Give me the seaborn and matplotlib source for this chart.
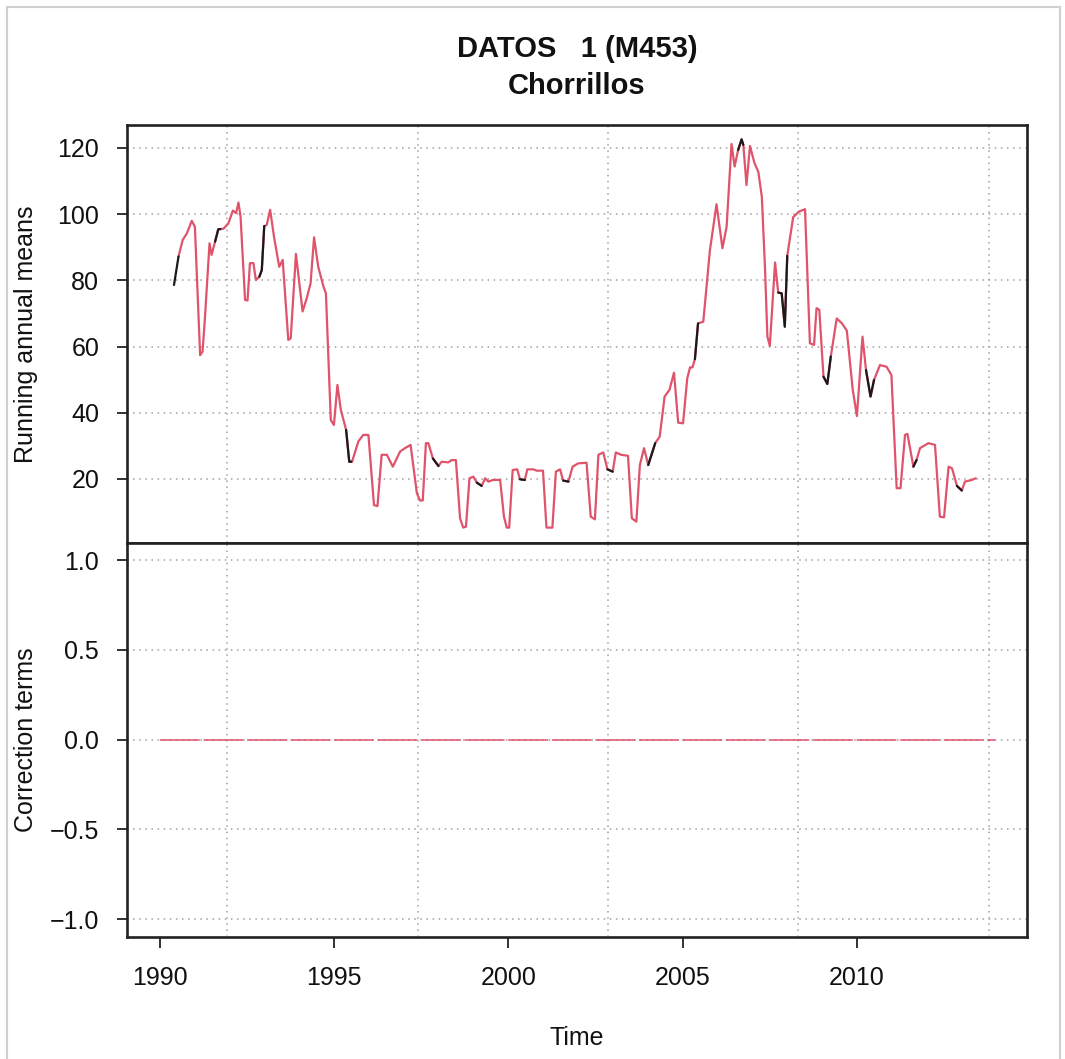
import matplotlib
matplotlib.use("Agg")
import matplotlib.pyplot as plt
import pandas as pd
import seaborn as sns
from matplotlib.patches import Rectangle
from matplotlib.ticker import FuncFormatter

# Serie homogeneizada (medias anuales moviles), vertices.
hom_time = [
    1990.53, 1990.65, 1990.77, 1990.91, 1991.00, 1991.15, 1991.22, 1991.29, 1991.42, 1991.48,
    1991.58, 1991.67, 1991.82, 1991.96, 1992.09, 1992.18, 1992.25, 1992.31, 1992.44, 1992.51,
    1992.58, 1992.68, 1992.75, 1992.85, 1992.92, 1992.99, 1993.06, 1993.16, 1993.27, 1993.42,
    1993.52, 1993.68, 1993.75, 1993.90, 1994.09, 1994.21, 1994.32, 1994.42, 1994.54, 1994.69,
    1994.76, 1994.90, 1994.99, 1995.09, 1995.19, 1995.34, 1995.43, 1995.51, 1995.69, 1995.83,
    1995.98, 1996.14, 1996.24, 1996.36, 1996.51, 1996.68, 1996.89, 1997.03, 1997.19, 1997.37,
    1997.46, 1997.54, 1997.63, 1997.70, 1997.83, 1997.99, 1998.08, 1998.27, 1998.37, 1998.49,
    1998.61, 1998.70, 1998.78, 1998.88, 1998.99, 1999.09, 1999.23, 1999.33, 1999.42, 1999.56,
    1999.76, 1999.87, 1999.95, 2000.02, 2000.12, 2000.25, 2000.33, 2000.47, 2000.54, 2000.71,
    2000.81, 2000.99, 2001.09, 2001.26, 2001.36, 2001.48, 2001.57, 2001.72, 2001.84, 2002.00,
    2002.24, 2002.36, 2002.48, 2002.58, 2002.72, 2002.84, 2002.99, 2003.08, 2003.23, 2003.43,
    2003.54, 2003.67, 2003.77, 2003.89, 2004.01, 2004.21, 2004.34, 2004.48, 2004.62, 2004.75,
    2004.87, 2005.01, 2005.13, 2005.21, 2005.28, 2005.35, 2005.44, 2005.59, 2005.78, 2005.97,
    2006.14, 2006.26, 2006.40, 2006.49, 2006.59, 2006.69, 2006.74, 2006.83, 2006.93, 2007.06,
    2007.17, 2007.27, 2007.36, 2007.43, 2007.50, 2007.65, 2007.74, 2007.84, 2007.93, 2008.00,
    2008.17, 2008.34, 2008.51, 2008.65, 2008.77, 2008.84, 2008.92, 2009.04, 2009.15, 2009.25,
    2009.42, 2009.57, 2009.71, 2009.88, 2010.00, 2010.16, 2010.26, 2010.39, 2010.49, 2010.66,
    2010.85, 2010.99, 2011.14, 2011.25, 2011.38, 2011.45, 2011.62, 2011.71, 2011.81, 2012.05,
    2012.24, 2012.38, 2012.50, 2012.63, 2012.73, 2012.87, 2013.01, 2013.10, 2013.30, 2013.41,
]
hom_value = [
    87.2, 92.2, 94.2, 98.0, 96.2, 57.4, 58.5, 69.0, 91.2, 87.7,
    91.7, 95.4, 95.6, 97.2, 101.1, 100.3, 103.5, 99.3, 74.1, 73.9,
    85.2, 85.2, 80.1, 81.1, 83.1, 96.4, 96.7, 101.3, 93.2, 84.1,
    86.2, 62.0, 62.5, 88.0, 70.6, 74.6, 79.1, 93.0, 84.1, 78.1,
    76.1, 37.8, 36.3, 48.4, 40.8, 34.8, 25.2, 25.2, 31.3, 33.3,
    33.3, 12.1, 11.8, 27.3, 27.3, 23.7, 28.3, 29.3, 30.3, 15.7,
    13.5, 13.5, 30.8, 30.8, 26.2, 23.9, 25.2, 25.0, 25.7, 25.7,
    8.1, 5.3, 5.6, 20.2, 20.7, 18.9, 17.9, 20.2, 19.2, 19.7,
    19.7, 8.6, 5.3, 5.3, 22.7, 22.9, 19.9, 19.7, 22.9, 22.9,
    22.5, 22.5, 5.3, 5.3, 22.2, 22.9, 19.5, 19.2, 23.7, 24.7,
    24.9, 8.6, 7.8, 27.3, 28.0, 22.9, 22.2, 28.0, 27.3, 27.0,
    8.1, 7.1, 24.2, 29.3, 24.2, 30.8, 32.8, 44.9, 46.9, 52.1,
    37.0, 36.8, 50.4, 53.7, 53.7, 56.2, 67.0, 67.5, 89.0, 103.0,
    89.7, 96.2, 121.2, 114.4, 119.4, 122.6, 120.9, 108.8, 120.6, 115.4,
    112.8, 105.3, 84.1, 63.0, 60.2, 85.4, 76.3, 76.1, 66.0, 87.4,
    99.1, 100.8, 101.5, 61.0, 60.5, 71.6, 71.1, 50.9, 48.7, 57.0,
    68.5, 67.0, 64.8, 46.9, 39.0, 63.0, 52.9, 44.9, 49.9, 54.4,
    53.9, 51.4, 17.2, 17.2, 33.3, 33.6, 23.7, 25.7, 29.3, 30.8,
    30.3, 8.6, 8.4, 23.7, 23.2, 17.9, 16.5, 19.2, 19.7, 20.2,
]

# Tramos de la serie original que quedan visibles (en negro).
orig_time = [
    1990.40, 1990.53,
    1991.58, 1991.67, 1991.73,
    1992.85, 1992.92, 1992.99,
    1995.34, 1995.43, 1995.49,
    1997.83, 1997.99,
    1999.09, 1999.23,
    2000.33, 2000.47,
    2001.57, 2001.72,
    2002.84, 2002.99,
    2004.01, 2004.21,
    2005.35, 2005.44,
    2006.59, 2006.69, 2006.74,
    2007.74, 2007.84, 2007.93, 2008.00,
    2009.04, 2009.15, 2009.25,
    2010.26, 2010.39, 2010.49,
    2011.62, 2011.71,
    2012.87, 2013.01,
]
orig_value = [
    78.6, 87.2,
    91.7, 95.4, 95.5,
    81.1, 83.1, 96.4,
    34.8, 25.2, 25.2,
    26.2, 23.9,
    18.9, 17.9,
    19.9, 19.7,
    19.5, 19.2,
    22.9, 22.2,
    24.2, 30.8,
    56.2, 67.0,
    119.4, 122.6, 120.9,
    76.3, 76.1, 66.0, 87.4,
    50.9, 48.7, 57.0,
    52.9, 44.9, 49.9,
    23.7, 25.7,
    17.9, 16.5,
]
orig_segment = [
    1, 1,
    2, 2, 2,
    3, 3, 3,
    4, 4, 4,
    5, 5,
    6, 6,
    7, 7,
    8, 8,
    9, 9,
    10, 10,
    11, 11,
    12, 12, 12,
    13, 13, 13, 13,
    14, 14, 14,
    15, 15, 15,
    16, 16,
    17, 17,
]

# Terminos de correccion (todos nulos).
corr_time = [1990.0, 2013.96]
corr_value = [0.0, 0.0]

year_ticks = [1990, 1995, 2000, 2005, 2010]
grid_years = [1991.91, 1997.39, 2002.87, 2008.32, 2013.80]
top_yticks = [20, 40, 60, 80, 100, 120]
bottom_yticks = [-1.0, -0.5, 0.0, 0.5, 1.0]

RED = "#DF536B"
FRAME = "#222222"
GRID = "#a0a0a0"
TEXT = "#111111"

sns.set_theme(style="white")
plt.rcParams["font.family"] = ["Liberation Sans", "DejaVu Sans"]

hom = pd.DataFrame({"time": hom_time, "value": hom_value})
orig = pd.DataFrame({"time": orig_time, "value": orig_value, "seg": orig_segment})
corr = pd.DataFrame({"time": corr_time, "value": corr_value})

fig = plt.figure(figsize=(10.65, 10.59), dpi=100)
ax_top = fig.add_axes([0.1192, 0.4873, 0.8451, 0.3947])
ax_bot = fig.add_axes([0.1192, 0.1152, 0.8451, 0.3721])

for ax in (ax_top, ax_bot):
    ax.set_xlim(1989.05, 2014.88)
    for gx in grid_years:
        ax.axvline(gx, color=GRID, lw=1.1, linestyle=(0, (1, 3)), zorder=0)
    ax.grid(axis="y", color=GRID, lw=1.1, linestyle=(0, (1, 3)))
    ax.set_axisbelow(True)
    for spine in ax.spines.values():
        spine.set_visible(True)
        spine.set_color(FRAME)
        spine.set_linewidth(1.9)
    ax.tick_params(axis="y", direction="out", length=7, width=1.3, color=FRAME,
                   labelsize=18, pad=13, left=True, labelcolor=TEXT)

# Panel superior: medias anuales moviles
sns.lineplot(data=hom, x="time", y="value", ax=ax_top, color=RED, lw=1.6,
             estimator=None, sort=False, zorder=3)
sns.lineplot(data=orig, x="time", y="value", units="seg", ax=ax_top, color="#1a1a1a",
             lw=1.6, estimator=None, sort=False, zorder=4)
ax_top.set_ylim(0.66, 126.95)
ax_top.set_yticks(top_yticks)
ax_top.set_xticks([])
ax_top.set_xlabel("")
ax_top.set_ylabel("Running annual means", fontsize=18, color=TEXT)
ax_top.yaxis.set_label_coords(-0.099, 0.5)
ax_top.set_title("DATOS   1 (M453)\nChorrillos", fontsize=21, fontweight="bold",
                 linespacing=1.45, pad=22, color=TEXT)

# Panel inferior: terminos de correccion
sns.lineplot(data=corr, x="time", y="value", ax=ax_bot, color=RED, lw=1.1,
             linestyle=(0, (26, 2.5)), estimator=None, zorder=3)
ax_bot.set_ylim(-1.1, 1.095)
ax_bot.set_yticks(bottom_yticks)
ax_bot.yaxis.set_major_formatter(FuncFormatter(lambda v, pos: f"{v:.1f}".replace("-", "\u2212")))
ax_bot.set_xticks(year_ticks)
ax_bot.tick_params(axis="x", direction="out", length=8, width=1.3, color=FRAME,
                   labelsize=18, pad=13, bottom=True, labelcolor=TEXT)
ax_bot.set_ylabel("Correction terms", fontsize=18, color=TEXT)
ax_bot.yaxis.set_label_coords(-0.099, 0.5)
ax_bot.set_xlabel("Time", fontsize=18, labelpad=26, color=TEXT)

# borde gris de la pagina
fig.patches.append(Rectangle((7 / 1065, -0.01), 1053 / 1065, 1 - 7 / 1059 + 0.01,
                             transform=fig.transFigure, fill=False,
                             edgecolor="#d0d0d0", lw=1.5))

fig.savefig("out.png", dpi=100)
plt.close(fig)
